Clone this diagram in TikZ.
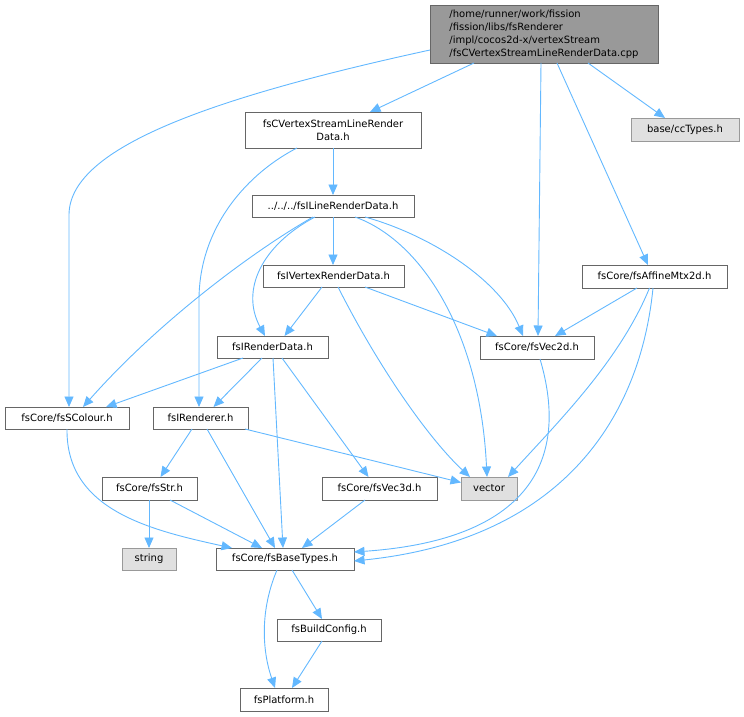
\documentclass[tikz,border=0pt]{standalone}
\usepackage{fontspec}
\setmainfont{DejaVu Sans}
\usetikzlibrary{arrows.meta}
\definecolor{edgec}{HTML}{63B8FF}
\definecolor{brd}{HTML}{666666}
\definecolor{rootfill}{HTML}{999999}
\definecolor{grayfill}{HTML}{E0E0E0}
\definecolor{graybrd}{HTML}{999999}
\tikzset{
  box/.style={draw=brd, fill=white, line width=0.9pt, inner sep=0pt, outer sep=0pt,
    font=\fontsize{10}{13}\selectfont, align=center},
  rootbox/.style={box, fill=rootfill, align=left},
  graybox/.style={box, draw=graybrd, fill=grayfill},
  edge/.style={draw=edgec, line width=0.9pt, -{Triangle[length=10.5pt,width=9pt]}},
}
\begin{document}
\begin{tikzpicture}[x=1pt,y=-1pt]
\useasboundingbox (0,0) rectangle (744,717);
% nodes
\node[rootbox, minimum width=228pt, minimum height=58pt] (root) at (544,34)
  {/home/runner/work/fission\\/fission/libs/fsRenderer\\/impl/cocos2d-x/vertexStream\\/fsCVertexStreamLineRenderData.cpp};
\node[graybox, minimum width=108pt, minimum height=23pt] (cc) at (685,129.5) {base/ccTypes.h};
\node[box, minimum width=176pt, minimum height=36pt] (cv) at (333,130) {fsCVertexStreamLineRender\\Data.h};
\node[box, minimum width=162pt, minimum height=22pt] (il) at (333,206) {../../../fsILineRenderData.h};
\node[box, minimum width=141pt, minimum height=22pt] (iv) at (333.5,276) {fsIVertexRenderData.h};
\node[box, minimum width=145pt, minimum height=23pt] (aff) at (654.5,276.5) {fsCore/fsAffineMtx2d.h};
\node[box, minimum width=111pt, minimum height=22pt] (ird) at (272.5,347) {fsIRenderData.h};
\node[box, minimum width=114pt, minimum height=23pt] (v2) at (537,347.5) {fsCore/fsVec2d.h};
\node[box, minimum width=124pt, minimum height=22pt] (sc) at (67,418) {fsCore/fsSColour.h};
\node[box, minimum width=95pt, minimum height=22pt] (ren) at (200.5,418) {fsIRenderer.h};
\node[box, minimum width=95pt, minimum height=23pt] (str) at (149.5,488.5) {fsCore/fsStr.h};
\node[box, minimum width=115pt, minimum height=23pt] (v3) at (379.5,488.5) {fsCore/fsVec3d.h};
\node[graybox, minimum width=56pt, minimum height=23pt] (vec) at (489,488.5) {vector};
\node[graybox, minimum width=54pt, minimum height=22pt] (string) at (149,559) {string};
\node[box, minimum width=138pt, minimum height=22pt] (bt) at (285,559) {fsCore/fsBaseTypes.h};
\node[box, minimum width=104pt, minimum height=22pt] (bc) at (329,630) {fsBuildConfig.h};
\node[box, minimum width=88pt, minimum height=23pt] (pl) at (284,699.5) {fsPlatform.h};
% edges
\draw[edge] ([yshift=-16pt]root.west) .. controls (200,100) and (69,150) .. (69,215) -- ([xshift=2pt]sc.north);
\draw[edge] ([xshift=-70pt]root.south) -- ([xshift=37pt]cv.north);
\draw[edge] ([xshift=-3pt]root.south) -- ([xshift=1pt]v2.north);
\draw[edge] ([xshift=13pt]root.south) -- ([xshift=-6.5pt]aff.north);
\draw[edge] ([xshift=44pt]root.south) -- ([xshift=-20pt]cc.north);
\draw[edge] (cv.south) -- (il.north);
\draw[edge] ([xshift=-36pt]cv.south) .. controls (250,172) and (199,225) .. (199,300) -- ([xshift=-1.5pt]ren.north);
\draw[edge] (il.south) -- ([xshift=-0.5pt]iv.north);
\draw[edge] ([xshift=-18pt]il.south) .. controls (262,245) and (240,290) .. ([xshift=-7.5pt]ird.north);
\draw[edge] ([xshift=-20pt]il.south) .. controls (255,250) and (160,320) .. ([xshift=16pt]sc.north);
\draw[edge] ([xshift=32pt]il.south) .. controls (430,235) and (500,280) .. ([xshift=-14pt]v2.north);
\draw[edge] ([xshift=22pt]il.south) .. controls (420,240) and (480,330) .. ([xshift=-2pt]vec.north);
\draw[edge] ([xshift=-11.5pt]iv.south) -- ([xshift=12pt]ird.north);
\draw[edge] ([xshift=4.5pt]iv.south) .. controls (380,370) and (430,440) .. ([xshift=-19pt]vec.north);
\draw[edge] ([xshift=31.5pt]iv.south) -- ([xshift=-40pt]v2.north);
\draw[edge] ([xshift=-17.5pt]aff.south) -- ([xshift=18pt]v2.north);
\draw[edge] ([xshift=-5pt]aff.south) .. controls (620,360) and (560,420) .. ([xshift=19pt]vec.north);
\draw[edge] ([xshift=-1.5pt]aff.south) .. controls (640,420) and (560,540) .. ([yshift=-2pt]bt.east);
\draw[edge] ([xshift=3pt]v2.south) .. controls (570,460) and (530,540) .. ([yshift=7pt]bt.east);
\draw[edge] ([xshift=-29.5pt]ird.south) -- ([xshift=39pt]sc.north);
\draw[edge] ([xshift=-10.5pt]ird.south) -- ([xshift=13pt]ren.north);
\draw[edge] ([xshift=0.5pt]ird.south) -- ([xshift=-2pt]bt.north);
\draw[edge] ([xshift=9.5pt]ird.south) -- ([xshift=-11pt]v3.north);
\draw[edge] (sc.south) .. controls (66,510) and (150,530) .. ([xshift=-53pt]bt.north);
\draw[edge] ([xshift=-8.5pt]ren.south) -- ([xshift=11pt]str.north);
\draw[edge] ([xshift=6.5pt]ren.south) -- ([xshift=-10pt]bt.north);
\draw[edge] ([xshift=-3pt]ren.south east) -- ([yshift=6pt]vec.west);
\draw[edge] ([xshift=-0.5pt]str.south) -- (string.north);
\draw[edge] ([xshift=20.5pt]str.south) -- ([xshift=-23pt]bt.north);
\draw[edge] ([xshift=-14.5pt]v3.south) -- ([xshift=17pt]bt.north);
\draw[edge] ([xshift=7pt]bt.south) -- ([xshift=-7pt]bc.north);
\draw[edge] ([xshift=-8pt]bt.south) .. controls (260,610) and (262,650) .. ([xshift=-9pt]pl.north);
\draw[edge] ([xshift=-7pt]bc.south) -- ([xshift=8pt]pl.north);
\end{tikzpicture}
\end{document}
